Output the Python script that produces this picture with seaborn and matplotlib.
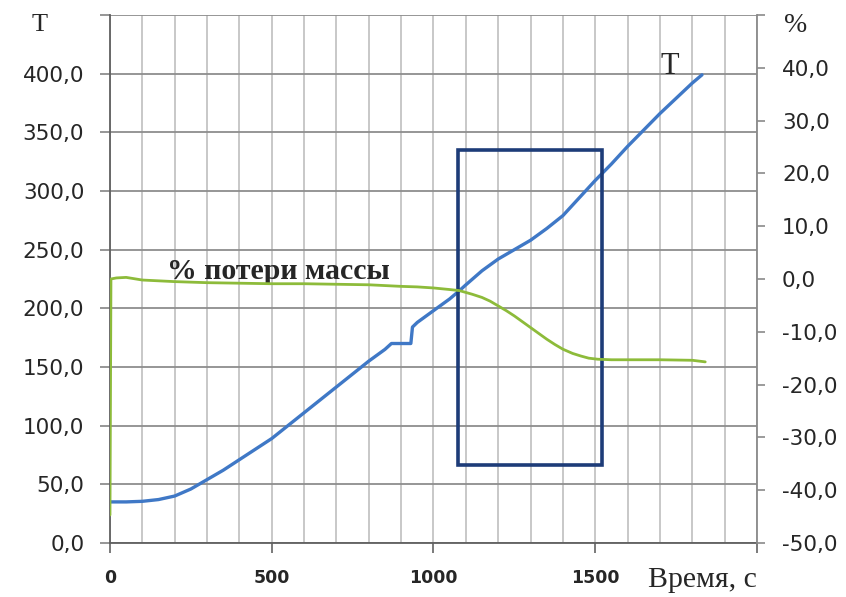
import matplotlib
matplotlib.use("Agg")
import matplotlib.pyplot as plt
from matplotlib.ticker import MultipleLocator, FixedLocator, FuncFormatter
from matplotlib.patches import Rectangle
import seaborn as sns
import pandas as pd

# Temperature T (left axis) vs time, s
time_T = [0, 50, 100, 150, 200, 250, 300, 350, 400, 450, 500, 550, 600, 650,
          700, 750, 800, 850, 870, 900, 930, 935, 950, 1000, 1050, 1080, 1100,
          1150, 1200, 1250, 1300, 1350, 1400, 1450, 1500, 1550, 1600, 1650,
          1700, 1750, 1800, 1830]
temp_T = [35, 35, 35.5, 37, 40, 46, 54, 62, 71, 80, 89, 100, 111, 122,
          133, 144, 155, 165, 170, 170, 170, 184, 188, 198, 208, 215, 220,
          232, 242, 250, 258, 268, 279, 294, 309, 323, 338, 352,
          366, 379, 392, 399]

# Mass loss, % (right axis) vs time, s
time_M = [0, 3, 20, 50, 100, 200, 300, 400, 500, 600, 700, 800, 900, 950,
          1000, 1050, 1080, 1120, 1150, 1175, 1200, 1225, 1250, 1275, 1300,
          1325, 1350, 1375, 1400, 1430, 1456, 1480, 1508, 1550, 1600, 1700,
          1800, 1840]
loss_M = [-44.7, 0.0, 0.2, 0.3, -0.2, -0.5, -0.7, -0.8, -0.9, -0.9, -1.0,
          -1.1, -1.4, -1.5, -1.7, -2.0, -2.2, -2.9, -3.5, -4.2, -5.1, -6.0,
          -7.0, -8.1, -9.2, -10.3, -11.4, -12.4, -13.3, -14.1, -14.6, -15.0,
          -15.2, -15.3, -15.3, -15.3, -15.4, -15.7]

# Highlighted interval (time, temperature)
box_t = [1077, 1520]
box_T = [66.5, 335]

x_major = [0, 500, 1000, 1500, 2000]
x_labels = ["0", "500", "1000", "1500", ""]
left_ticks = [0, 50, 100, 150, 200, 250, 300, 350, 400, 450]
right_ticks = [-50, -40, -30, -20, -10, 0, 10, 20, 30, 40, 50]

sns.set_style("white")
plt.rcParams["font.family"] = ["DejaVu Sans"]

blue = "#3F78C6"
green = "#8DBB3A"
navy = "#1D3C78"
grid_h = "#8E8E8E"
grid_v = "#C4C4C4"
txt = "#262626"

fig = plt.figure(figsize=(8.46, 5.97), dpi=100)
ax = fig.add_axes([0.1300, 0.0905, 0.7648, 0.8844])
ax2 = ax.twinx()

df_T = pd.DataFrame({"t": time_T, "T": temp_T})
df_M = pd.DataFrame({"t": time_M, "m": loss_M})

sns.lineplot(data=df_T, x="t", y="T", ax=ax, color=blue, linewidth=2.4,
             sort=False, estimator=None, zorder=4)
sns.lineplot(data=df_M, x="t", y="m", ax=ax2, color=green, linewidth=2.0,
             sort=False, estimator=None, zorder=3)

ax.add_patch(Rectangle((box_t[0], box_T[0]), box_t[1] - box_t[0],
                       box_T[1] - box_T[0], fill=False, edgecolor=navy,
                       linewidth=2.6, zorder=5))

ax.set_xlim(0, 2000)
ax.set_ylim(0, 450)
ax2.set_ylim(-50, 50)

ax.xaxis.set_major_locator(FixedLocator(x_major))
ax.set_xticklabels(x_labels)
ax.xaxis.set_minor_locator(MultipleLocator(100))
ax.yaxis.set_major_locator(FixedLocator(left_ticks))
ax2.yaxis.set_major_locator(FixedLocator(right_ticks))

fmt_left = FuncFormatter(lambda v, p: "" if v > 400 else f"{v:.1f}".replace(".", ","))
fmt_right = FuncFormatter(lambda v, p: "" if v > 40 else f"{v:.1f}".replace(".", ","))
ax.yaxis.set_major_formatter(fmt_left)
ax2.yaxis.set_major_formatter(fmt_right)

ax.grid(True, which="minor", axis="x", color=grid_v, linewidth=1.3)
ax.grid(True, which="major", axis="x", color=grid_v, linewidth=1.3)
ax.grid(True, which="major", axis="y", color=grid_h, linewidth=1.3)
ax.set_axisbelow(True)

ax.tick_params(axis="y", which="major", direction="out", length=7.5, width=1.3,
               color=grid_h, pad=11, labelsize=15.5, labelcolor=txt, left=True)
ax.tick_params(axis="x", which="major", direction="out", length=7, width=1.3,
               color="#707070", pad=12, labelsize=12.5, labelcolor=txt, bottom=True)
ax.tick_params(axis="x", which="minor", length=0)
for lab in ax.get_xticklabels():
    lab.set_fontweight("bold")
ax2.tick_params(axis="y", direction="out", length=6, width=1.2, color="#8A8A8A",
                pad=12, labelsize=15.5, labelcolor=txt, right=True)

ax.set_xlabel("")
ax.set_ylabel("")
ax2.set_xlabel("")
ax2.set_ylabel("")

for a in (ax, ax2):
    a.spines["top"].set_visible(False)
ax.spines["left"].set_color("#606060")
ax.spines["left"].set_linewidth(1.3)
ax.spines["bottom"].set_color("#606060")
ax.spines["bottom"].set_linewidth(1.3)
ax2.spines["right"].set_color("#8A8A8A")
ax2.spines["right"].set_linewidth(1.3)
ax2.spines["left"].set_visible(False)
ax2.spines["bottom"].set_visible(False)
ax.spines["right"].set_visible(False)

serif = ["Liberation Serif", "DejaVu Serif"]
fig.text(40 / 846, 1 - 25 / 597, "T", family=serif, fontsize=19, color=txt,
         ha="center", va="center")
fig.text(796 / 846, 1 - 26 / 597, "%", family=serif, fontsize=20, color=txt,
         ha="center", va="center")
fig.text(702 / 846, 1 - 587 / 597, "Время, с", family=serif, fontsize=21.5,
         color=txt, ha="center", va="baseline")
ax.text(1729, 406, "T", family=serif, fontsize=22, color=txt,
        ha="center", va="center", zorder=6)
ax.text(520, 231, "% потери массы", family=serif, fontsize=21.5,
        fontweight="bold", color=txt, ha="center", va="center", zorder=6)

fig.savefig("out.png", dpi=100)
